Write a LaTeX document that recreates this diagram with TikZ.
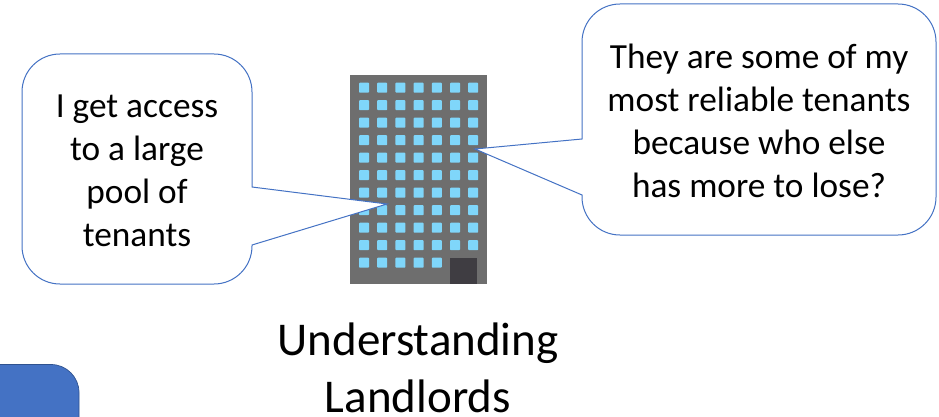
\documentclass[tikz,border=0pt]{standalone}
\usepackage{fontspec}
\setmainfont{Carlito}
\usepackage{tikz}
\usetikzlibrary{calc, positioning}
\definecolor{calloutblue}{HTML}{4472C4}
\definecolor{tabedge}{HTML}{2F528F}
\definecolor{wallgray}{HTML}{6E6E6E}
\definecolor{windowblue}{HTML}{7FD6FA}
\definecolor{doorgray}{HTML}{3F3D42}
\tikzset{
  bubble/.style={draw=calloutblue, fill=white, line width=1pt},
  bubbletext/.style={align=center, font=\fontsize{35.3}{43}\selectfont},
  titletext/.style={align=center, font=\fontsize{47}{57}\selectfont},
  windowpane/.style={fill=windowblue, minimum size=10pt, inner sep=0pt, rounded corners=0.8pt}
}
\begin{document}
\begin{tikzpicture}[x=1pt, y=-1pt]
  \useasboundingbox (0,0) rectangle (939,417);
  \fill [wallgray] (350,75) rectangle (487,284);
  \foreach \row in {0,...,9} {
    \foreach \col in {0,...,6} {
      \node [windowpane] (win\row\col) at (364+18.2*\col,87.7+17.5*\row) {};
    }
  }
  \foreach \col in {0,...,4} {
    \node [windowpane] (door\col) at (364+18.2*\col,262.7) {};
  }
  \fill [doorgray] (450,258) rectangle (477,284);
  \coordinate (lefttip) at (387,204);
  \coordinate (righttip) at (475,149);
  \draw [bubble] (252,187) [rounded corners=38pt] -- (252,54) -- (22,54) -- (22,284) -- (252,284) [sharp corners] -- (252,245) -- (lefttip) -- cycle;
  \draw [bubble] (582,139) [rounded corners=38pt] -- (582,4) -- (936,4) -- (936,235) -- (582,235) [sharp corners] -- (582,195) -- (righttip) -- cycle;
  \node [bubbletext] (leftsay) at (137,171) {I get access\\to a large\\pool of\\tenants};
  \node [bubbletext] (rightsay) at (759,121) {They are some of my\\most reliable tenants\\because who else\\has more to lose?};
  \node [titletext] (title) at (418,368) {Understanding\\Landlords};
  \draw [fill=calloutblue, draw=tabedge, line width=0.7pt, rounded corners=28pt] (-40,364.5) -- (79,364.5) -- (79,460) -- (-40,460) -- cycle;
\end{tikzpicture}
\end{document}
